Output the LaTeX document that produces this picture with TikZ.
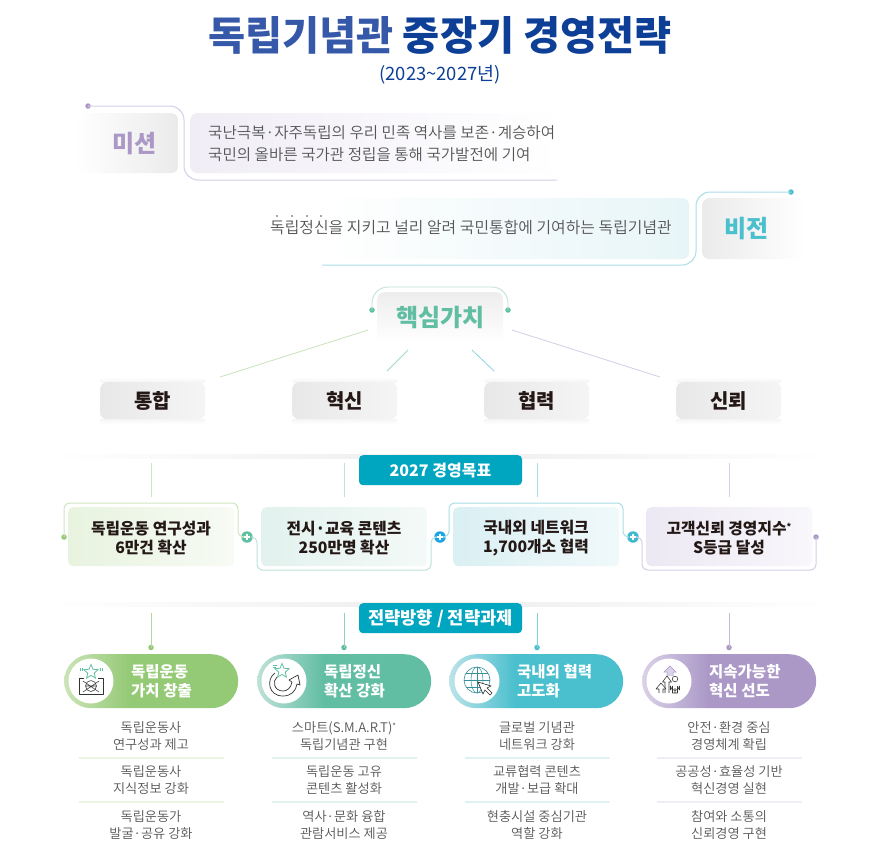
\documentclass[tikz,border=0pt]{standalone}
\usepackage{fontspec}
\setmainfont{Noto Sans CJK KR}
\newfontfamily\kb{Noto Sans CJK KR Black}
\newfontfamily\kh{Noto Sans CJK KR Bold}
\newfontfamily\kl{Noto Sans CJK KR DemiLight}
\usetikzlibrary{calc,shapes.geometric}
\definecolor{ink}{HTML}{231815}
\definecolor{body}{HTML}{555555}
\definecolor{nav}{HTML}{0D3F97}
\definecolor{navl}{HTML}{3558A9}
\definecolor{pur}{HTML}{AB98C7}
\definecolor{tea}{HTML}{4ABFCD}
\definecolor{grn}{HTML}{62BEA3}
\definecolor{lim}{HTML}{94C975}
\definecolor{banner}{HTML}{00A5BF}
\definecolor{limL}{HTML}{CBE4B8}
\definecolor{grnL}{HTML}{BFE1D8}
\definecolor{teaL}{HTML}{BCE3E9}
\definecolor{purL}{HTML}{DAD2E8}
\definecolor{limB}{HTML}{CFE6C0}
\definecolor{grnB}{HTML}{BDE3DA}
\definecolor{teaB}{HTML}{A9DDE6}
\definecolor{purB}{HTML}{D6CDE6}
\definecolor{plusG}{HTML}{5FC0A4}
\definecolor{plusB}{HTML}{1BA7E6}
\definecolor{plusT}{HTML}{3FB9CB}
\pgfdeclarehorizontalshading{pillLim}{100bp}{color(0bp)=(limL); color(25bp)=(limL); color(44bp)=(lim); color(100bp)=(lim)}
\pgfdeclarehorizontalshading{pillGrn}{100bp}{color(0bp)=(grnL); color(25bp)=(grnL); color(44bp)=(grn); color(100bp)=(grn)}
\pgfdeclarehorizontalshading{pillTea}{100bp}{color(0bp)=(teaL); color(25bp)=(teaL); color(44bp)=(tea); color(100bp)=(tea)}
\pgfdeclarehorizontalshading{pillPur}{100bp}{color(0bp)=(purL); color(25bp)=(purL); color(44bp)=(pur); color(100bp)=(pur)}
\tikzset{
  boxbase/.style={rectangle,inner sep=0pt,rounded corners=7pt,anchor=north west},
  valuebox/.style={boxbase,minimum width=105pt,minimum height=37pt,left color=black!9,right color=black!4,
    font=\kb\fontsize{20}{22}\selectfont,text=ink},
  goalbox/.style={boxbase,minimum width=166pt,minimum height=59pt,rounded corners=5pt},
  goaltext/.style={inner sep=0pt,align=center,font=\kb\fontsize{15.8}{19.3}\selectfont,text=ink},
  bannerbox/.style={rectangle,rounded corners=4pt,fill=banner,minimum width=163pt,minimum height=30pt,inner sep=0pt,anchor=north,
    font=\kb\fontsize{16}{18}\selectfont,text=white},
  pill/.style={rectangle,rounded corners=27pt,minimum width=174pt,minimum height=54pt,inner sep=0pt,anchor=north west},
  pilltext/.style={anchor=west,align=left,inner sep=0pt,text=white,font=\kb\fontsize{15.5}{19.5}\selectfont},
  disc/.style={circle,fill=white,minimum size=45pt,inner sep=0pt},
  dotnode/.style={circle,inner sep=0pt,minimum size=5.5pt},
  plusnode/.style={circle,inner sep=0pt,minimum size=11.5pt},
  listtext/.style={align=center,inner sep=0pt,text=body,font=\kl\fontsize{13.2}{16.3}\selectfont},
  conn/.style={line width=1pt,rounded corners=#1},
  conn/.default=14pt,
  plusmark/.style={white,line width=1.6pt},
  icon/.style={draw=black!80,line width=.55pt,line join=round},
  fadebar/.style={rectangle,inner sep=0pt,minimum height=4pt,minimum width=780pt,left color=white,right color=white,middle color=black!7},
  divline/.style={line width=1.2pt},
}
\begin{document}
\begin{tikzpicture}[x=1pt,y=-1pt]
\useasboundingbox (0,0) rectangle (880,860);
\fill[white] (0,0) rectangle (880,860);
% title
\node[inner sep=0pt,font=\kb\fontsize{40.3}{42}\selectfont] (title) at (440,35)
  {\textcolor{navl}{독립기념관} \textcolor{nav}{중장기 경영전략}};
\node[inner sep=0pt,text=nav,font=\fontsize{18.4}{20}\selectfont] (subtitle) at (440,75) {(2023\textasciitilde 2027년)};
% mission
\node[boxbase,minimum width=103pt,minimum height=60pt,left color=white,right color=black!8,text=pur,font=\kb\fontsize{24}{26}\selectfont] (missionlabel) at (75,113) {\hspace{16pt}미션};
\node[boxbase,minimum width=370pt,minimum height=60pt,left color=purL!40,right color=white] (missionbox) at (190,113) {};
\node[inner sep=0pt,anchor=west,align=left,text=body,font=\kl\fontsize{15.6}{22}\selectfont] (missiontext) at (208,144)
  {국난극복·자주독립의 우리 민족 역사를 보존·계승하여\\국민의 올바른 국가관 정립을 통해 국가발전에 기여};
\node[dotnode,fill=pur] (missiondot) at (88,106) {};
\coordinate (missionend) at (557,180);
\draw[conn,draw=purB] (missiondot.center) -- (184,106) -- (184,180) -- (missionend);
% vision
\node[boxbase,minimum width=364pt,minimum height=61pt,left color=white,right color=teaL!35] (visionbox) at (325,198) {};
\node[boxbase,minimum width=103pt,minimum height=61pt,left color=black!8,right color=white,text=tea,font=\kb\fontsize{24}{26}\selectfont] (visionlabel) at (702,198) {비전\kern15pt};
\node[inner sep=0pt,text=body,font=\kl\fontsize{15.9}{18}\selectfont] (visiontext) at (471,228) {독립정신을 지키고 널리 알려 국민통합에 기여하는 독립기념관};
\foreach \i/\x in {a/277,b/292,c/307,d/321}{\node[circle,fill=black!70,inner sep=0pt,minimum size=1.6pt] (em\i) at (\x,216) {};}
\node[dotnode,fill=tea] (visiondot) at (791,192) {};
\coordinate (visionend) at (322,265);
\draw[conn,draw=teaB] (visiondot.center) -- (696,192) -- (696,265) -- (visionend);
% core value
\node[boxbase,minimum width=126pt,minimum height=50pt,top color=black!7,bottom color=white,text=grn,font=\kb\fontsize{24}{26}\selectfont] (core) at (377,292) {핵심가치};
\node[dotnode,fill=plusG] (cdl) at (372,310) {};
\node[dotnode,fill=plusG] (cdr) at (508,310) {};
\draw[line width=.9pt,draw=grnB,rounded corners=16pt] (cdl.center) -- (372,287) -- (508,287) -- (cdr.center);
% values
\foreach \n/\x/\t in {v1/100/통합,v2/292/혁신,v3/484/협력,v4/676/신뢰}{
  \fill[top color=white,bottom color=black!4] (\x,377) rectangle +(105,5);
  \fill[top color=black!4,bottom color=white] (\x,419) rectangle +(105,5);
  \node[valuebox] (\n) at (\x,382) {\t};
}
\coordinate (l1a) at (368,330); \coordinate (l1b) at (220,377);
\coordinate (l2a) at (408,350); \coordinate (l2b) at (387,371);
\coordinate (l3a) at (472,350); \coordinate (l3b) at (494,371);
\coordinate (l4a) at (512,330); \coordinate (l4b) at (660,377);
\draw[line width=.8pt,limB!90!lim] (l1a) -- (l1b);
\draw[line width=.8pt,grnB!70!grn] (l2a) -- (l2b);
\draw[line width=.8pt,teaB!70!tea] (l3a) -- (l3b);
\draw[line width=.8pt,purB] (l4a) -- (l4b);
% goal section
\node[fadebar] (div1) at (440,456) {};
\foreach \n/\x/\c in {a/151/limB,b/344/grnB,c/537/teaB,d/729/purB}{
  \coordinate (ga\n) at (\x,463); \coordinate (gb\n) at (\x,497);
  \draw[line width=1pt,\c] (ga\n) -- (gb\n);
}
\node[bannerbox] (goalbanner) at (440.5,455) {2027 경영목표};
\node[goalbox,left color=limL!45,right color=limL!15] (g1) at (68,507) {};
\node[goalbox,left color=grnL!45,right color=grnL!18] (g2) at (261,507) {};
\node[goalbox,left color=teaL!55,right color=teaL!22] (g3) at (453,507) {};
\node[goalbox,left color=purL!50,right color=purL!18] (g4) at (646,507) {};
\node[goaltext] (gt1) at (151,538) {독립운동 연구성과\\6만건 확산};
\node[goaltext] (gt2) at (344,538) {전시·교육 콘텐츠\\250만명 확산};
\node[goaltext] (gt3) at (536,538) {국내외 네트워크\\1,700개소 협력};
\node[goaltext] (gt4) at (729,538) {고객신뢰 경영지수\raisebox{.4ex}{\fontsize{9}{9}\selectfont *}\\S등급 달성};
\node[dotnode,fill=lim] (gd1) at (64,537) {};
\node[plusnode,fill=plusG] (p1) at (247,537) {};
\node[plusnode,fill=plusB] (p2) at (440,537) {};
\node[plusnode,fill=plusT] (p3) at (633,537) {};
\foreach \p in {p1,p2,p3}{
  \draw[plusmark] ($(\p)+(-3.2,0)$) -- ($(\p)+(3.2,0)$) ($(\p)+(0,-3.2)$) -- ($(\p)+(0,3.2)$);
}
\node[dotnode,fill=pur] (gd4) at (816,537) {};
\draw[conn=6pt,draw=limB] (gd1.center) -- (64,503) -- (238,503) -- (238,537) -- (p1.west);
\draw[conn=6pt,draw=grnB] (p1.east) -- (257,537) -- (257,570) -- (431,570) -- (431,537) -- (p2.west);
\draw[conn=6pt,draw=teaB] (p2.east) -- (449,537) -- (449,503) -- (623,503) -- (623,537) -- (p3.west);
\draw[conn=6pt,draw=purB] (p3.east) -- (642,537) -- (642,570) -- (816,570) -- (gd4.center);
% strategy section
\node[fadebar] (div2) at (440,604) {};
\foreach \n/\x/\c/\d in {a/151/limB/lim,b/344/grnB/grn,c/537/teaB/tea,d/729/purB/pur}{
  \coordinate (sa\n) at (\x,613);
  \node[dotnode,fill=\d] (sd\n) at (\x,647.5) {};
  \draw[line width=1pt,\d!70!white] (sa\n) -- (sd\n.center);
}
\node[bannerbox,font=\kb\fontsize{17.6}{19}\selectfont] (stratbanner) at (440.5,603) {전략방향 / 전략과제};
% pills
\node[pill,shading=pillLim] (s1) at (64,654) {};
\node[pill,shading=pillGrn] (s2) at (257,654) {};
\node[pill,shading=pillTea] (s3) at (449,654) {};
\node[pill,shading=pillPur] (s4) at (642,654) {};
\node[disc] (c1) at (91,681) {};
\node[disc] (c2) at (284,681) {};
\node[disc] (c3) at (477,681) {};
\node[disc] (c4) at (669,681) {};
\node[pilltext] (st1) at (131,681) {독립운동\\가치 창출};
\node[pilltext] (st2) at (324,681) {독립정신\\확산 강화};
\node[pilltext] (st3) at (517,681) {국내외 협력\\고도화};
\node[pilltext] (st4) at (709,681) {지속가능한\\혁신 선도};
% icon 1
\node[star,star points=5,star point ratio=2.2,minimum size=15pt,inner sep=0pt,draw=grn,line width=.8pt] (i1s) at (91,672) {};
\draw[icon] (84,678)--(79,678)--(79,694)--(103,694)--(103,678)--(98,678);
\draw[icon] (91,686) circle (5.5);
\draw[icon] (83,681)--(99,692) (83,692)--(99,681) (85.5,686)--(96.5,686);
\draw[grn,line width=.5pt] (80,668)--(80,671) (82,668)--(82,671) (100,668)--(100,671) (102,668)--(102,671);
% icon 2
\node[star,star points=5,star point ratio=2.2,minimum size=15pt,inner sep=0pt,draw=grn,line width=.8pt] (i2s) at (282,671) {};
\draw[icon,line width=.7pt] (275,673) .. controls (266,679) and (268,696) .. (283,696)
  .. controls (291,696) and (296,691) .. (297,684) -- (300,685) -- (298,675) -- (289,680) -- (292,682)
  .. controls (291,688) and (287,691) .. (283,691) .. controls (274,691) and (272,681) .. (277,677);
\draw[grn,line width=.5pt] (273,665)--(277,665) (273,667)--(276,667);
% icon 3
\draw[draw=tea!75!black,line width=.6pt] (477,680) circle (13);
\draw[draw=tea!75!black,line width=.5pt] (477,680) ellipse (6 and 13);
\draw[draw=tea!75!black,line width=.5pt] (464,680)--(490,680) (477,667)--(477,693) (466,673)--(488,673) (466,687)--(488,687);
\filldraw[fill=white,draw=black!85,line width=.6pt] (478,682)--(491,686)--(487,688)--(492,693)--(490,695)--(485,690)--(483,694)--cycle;
% icon 4
\filldraw[fill=purL,draw=pur,line width=.5pt] (667,676)--(667,672)--(664,672)--(670,666)--(676,672)--(673,672)--(673,676);
\draw[icon,fill=white] (665,693)--(665,682)--(662.5,682)--(667,676)--(671.5,682)--(669,682)--(669,693);
\draw[icon,fill=white] (659,693)--(659,689)--(656,689)--(661,683)--(666,689)--(663,689)--(663,693);
\draw[icon] (675,679) circle (2.8);
\draw[icon] (670.5,690)--(670.5,686) arc[start angle=180,end angle=0,radius=4.5] --(679.5,690) (672.5,693)--(672.5,686) (677.5,693)--(677.5,686) (675,693)--(675,688) (672.5,693)--(677.5,693);
% lists
\foreach \n/\x/\a/\b/\cc in {
 a/151/{독립운동사\\연구성과 제고}/{독립운동사\\지식정보 강화}/{독립운동가\\발굴·공유 강화},
 b/344/{스마트(S.M.A.R.T)\raisebox{.4ex}{\fontsize{8}{8}\selectfont *}\\독립기념관 구현}/{독립운동 고유\\콘텐츠 활성화}/{역사·문화 융합\\관람서비스 제공},
 c/537/{글로벌 기념관\\네트워크 강화}/{교류협력 콘텐츠\\개발·보급 확대}/{현충시설 중심기관\\역할 강화},
 d/729/{안전·환경 중심\\경영체계 확립}/{공공성·효율성 기반\\혁신경영 실현}/{참여와 소통의\\신뢰경영 구현}}{
  \node[listtext] (la\n) at (\x,736) {\a};
  \node[listtext] (lb\n) at (\x,780) {\b};
  \node[listtext] (lc\n) at (\x,825) {\cc};
}
\foreach \n/\x/\c in {a/151/limL!40,b/344/grnL!45,c/537/teaL!50,d/729/purL!40}{
  \draw[divline,\c] (\x-72.5,758) -- (\x+72.5,758);
  \draw[divline,\c] (\x-72.5,802) -- (\x+72.5,802);
}
\end{tikzpicture}
\end{document}
